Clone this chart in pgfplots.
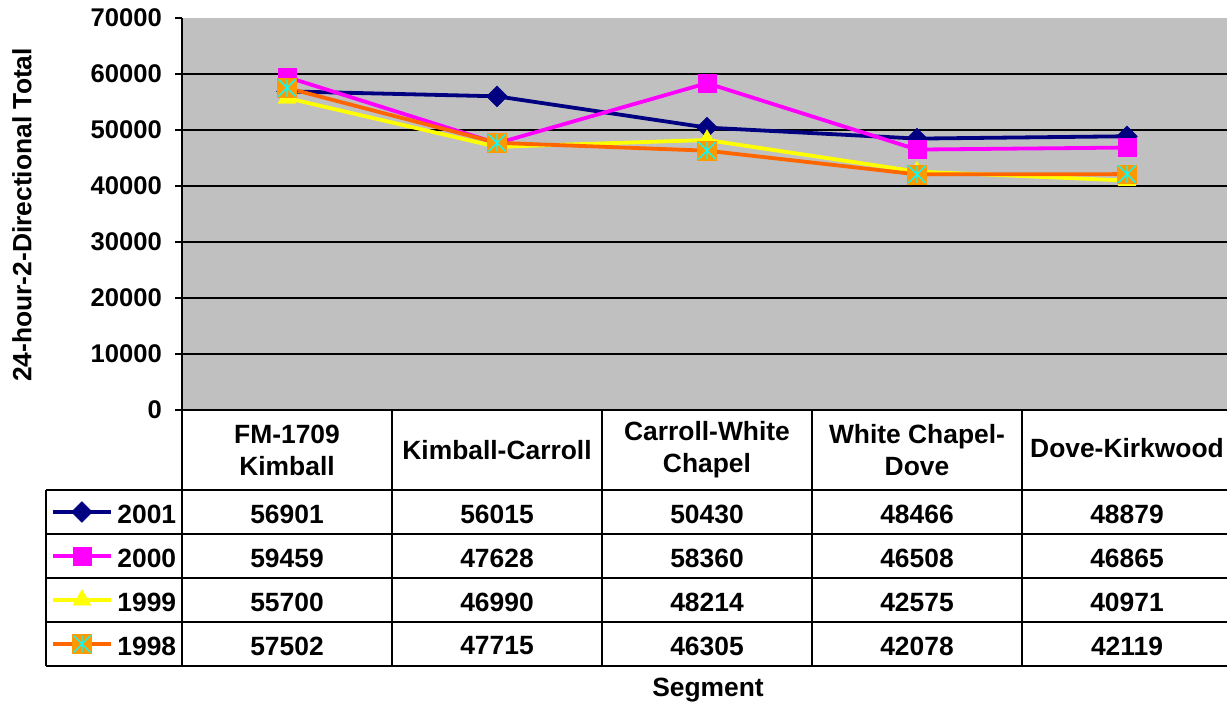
\documentclass[border=0pt]{standalone}
\usepackage{pgfplots}
\pgfplotsset{compat=1.18}
\usepackage{fontspec}
\setmainfont{Liberation Sans}
\definecolor{navy}{HTML}{000080}
\definecolor{mag}{HTML}{FF00FF}
\definecolor{yel}{HTML}{FFFF00}
\definecolor{orl}{HTML}{FF6600}
\definecolor{orf}{HTML}{FF9900}
\definecolor{cy}{HTML}{00FFFF}
\definecolor{plotbg}{HTML}{C0C0C0}
\pgfdeclareplotmark{xstar}{%
 \pgfpathmoveto{\pgfqpoint{0pt}{\pgfplotmarksize}}\pgfpathlineto{\pgfqpoint{0pt}{-\pgfplotmarksize}}%
 \pgfpathmoveto{\pgfqpoint{-\pgfplotmarksize}{\pgfplotmarksize}}\pgfpathlineto{\pgfqpoint{\pgfplotmarksize}{-\pgfplotmarksize}}%
 \pgfpathmoveto{\pgfqpoint{-\pgfplotmarksize}{-\pgfplotmarksize}}\pgfpathlineto{\pgfqpoint{\pgfplotmarksize}{\pgfplotmarksize}}%
 \pgfusepathqstroke}
\newcommand{\tf}{\bfseries\fontsize{13.2}{16}\selectfont}
\newcommand{\kf}{\bfseries\fontsize{12.8}{15}\selectfont}
\begin{document}
\begin{tikzpicture}
\begin{axis}[
 scale only axis, width=525pt, height=196pt,
 xmin=-0.5, xmax=4.5, ymin=0, ymax=70000,
 axis background/.style={fill=plotbg},
 axis x line*=bottom, axis y line*=left,
 axis line style={line width=0.8pt, black, -},
 xtick=\empty,
 ytick={10000,20000,...,60000},
 extra y ticks={0,70000},
 extra y tick style={grid=none},
 ymajorgrids, grid style={black, line width=0.75pt},
 tick align=outside, major tick length=3.5pt,
 ytick style={black, line width=0.75pt},
 scaled y ticks=false,
 yticklabel style={font=\kf, xshift=-3pt, /pgf/number format/fixed, /pgf/number format/1000 sep={}, /pgf/number format/assume math mode=true},
 clip=false,
]
\coordinate (O) at (axis cs:-0.5,0);
% data
\addplot[navy, line width=1.9pt, mark=square*, mark size=3.7pt, mark options={solid, rotate=45, fill=navy, draw=navy, line width=0.2pt}]
 coordinates {(0,56901)(1,56015)(2,50430)(3,48466)(4,48879)};
\addplot[mag, line width=1.9pt, mark=square*, mark size=4.5pt, mark options={solid, fill=mag, draw=mag, line width=0.2pt}]
 coordinates {(0,59459)(1,47628)(2,58360)(3,46508)(4,46865)};
\addplot[yel, line width=1.9pt, mark=triangle*, mark size=5.2pt, mark options={solid, fill=yel, draw=yel, line width=0.2pt}]
 coordinates {(0,55700)(1,46990)(2,48214)(3,42575)(4,40971)};
\addplot[orl, line width=1.9pt, mark=square*, mark size=4.7pt, mark options={solid, fill=orf, draw=orf, line width=0.2pt}]
 coordinates {(0,57502)(1,47715)(2,46305)(3,42078)(4,42119)};
\addplot[only marks, mark=xstar, mark size=4.3pt, mark options={cy, line width=0.7pt}]
 coordinates {(0,57502)(1,47715)(2,46305)(3,42078)(4,42119)};
% legend keys in data table
\addplot[navy, line width=1.9pt, mark=square*, mark indices={2}, mark size=3.7pt, mark options={solid, rotate=45, fill=navy, draw=navy, line width=0.2pt}]
 coordinates {(-1.1143,-18214)(-0.9762,-18214)(-0.8381,-18214)};
\addplot[mag, line width=1.9pt, mark=square*, mark indices={2}, mark size=4.5pt, mark options={solid, fill=mag, draw=mag, line width=0.2pt}]
 coordinates {(-1.1143,-26071)(-0.9762,-26071)(-0.8381,-26071)};
\addplot[yel, line width=1.9pt, mark=triangle*, mark indices={2}, mark size=5.2pt, mark options={solid, fill=yel, draw=yel, line width=0.2pt}]
 coordinates {(-1.1143,-33929)(-0.9762,-33929)(-0.8381,-33929)};
\addplot[orl, line width=1.9pt, mark=square*, mark indices={2}, mark size=4.7pt, mark options={solid, fill=orf, draw=orf, line width=0.2pt}]
 coordinates {(-1.1143,-41786)(-0.9762,-41786)(-0.8381,-41786)};
\addplot[only marks, mark=xstar, mark size=4.3pt, mark options={cy, line width=0.7pt}]
 coordinates {(-0.9762,-41786)};
\end{axis}
\begin{scope}[shift={(O)}, x=0.5pt, y=-0.5pt, shift={(-182,-410)}]
 \draw[line width=0.8pt, black]
   (182,410) -- (182,666) (392,410) -- (392,666) (602,410) -- (602,666)
   (812,410) -- (812,666) (1022,410) -- (1022,666) (46,490) -- (46,666)
   (46,490) -- (1232,490) (46,534) -- (1232,534) (46,578) -- (1232,578)
   (46,622) -- (1232,622) (46,666) -- (1232,666);
 \node[font=\tf, align=center] at (287,450) {FM-1709\\Kimball};
 \node[font=\tf, align=center] at (497,450) {Kimball-Carroll};
 \node[font=\tf, align=center] at (707,450) {Carroll-White\\Chapel};
 \node[font=\tf, align=center] at (917,450) {White Chapel-\\Dove};
 \node[font=\tf, align=center] at (1127,448) {Dove-Kirkwood};
 \node[font=\tf, anchor=west, inner sep=0pt] at (117,514) {2001};
 \node[font=\tf, anchor=west, inner sep=0pt] at (117,558) {2000};
 \node[font=\tf, anchor=west, inner sep=0pt] at (117,602) {1999};
 \node[font=\tf, anchor=west, inner sep=0pt] at (117,646) {1998};
 \foreach \x/\a/\b/\c/\d in {287/56901/59459/55700/57502, 497/56015/47628/46990/47715, 707/50430/58360/48214/46305, 917/48466/46508/42575/42078, 1127/48879/46865/40971/42119}{
   \node[font=\tf] at (\x,514) {\a};
   \node[font=\tf] at (\x,558) {\b};
   \node[font=\tf] at (\x,602) {\c};
   \node[font=\tf] at (\x,646) {\d};
 }
 \node[font=\tf] at (708,690) {Segment};
 \node[font=\tf, rotate=90] at (22,215) {24-hour-2-Directional Total};
 \pgfresetboundingbox
 \path[use as bounding box] (0,0) rectangle (1227,707);
\end{scope}
\end{tikzpicture}
\end{document}
